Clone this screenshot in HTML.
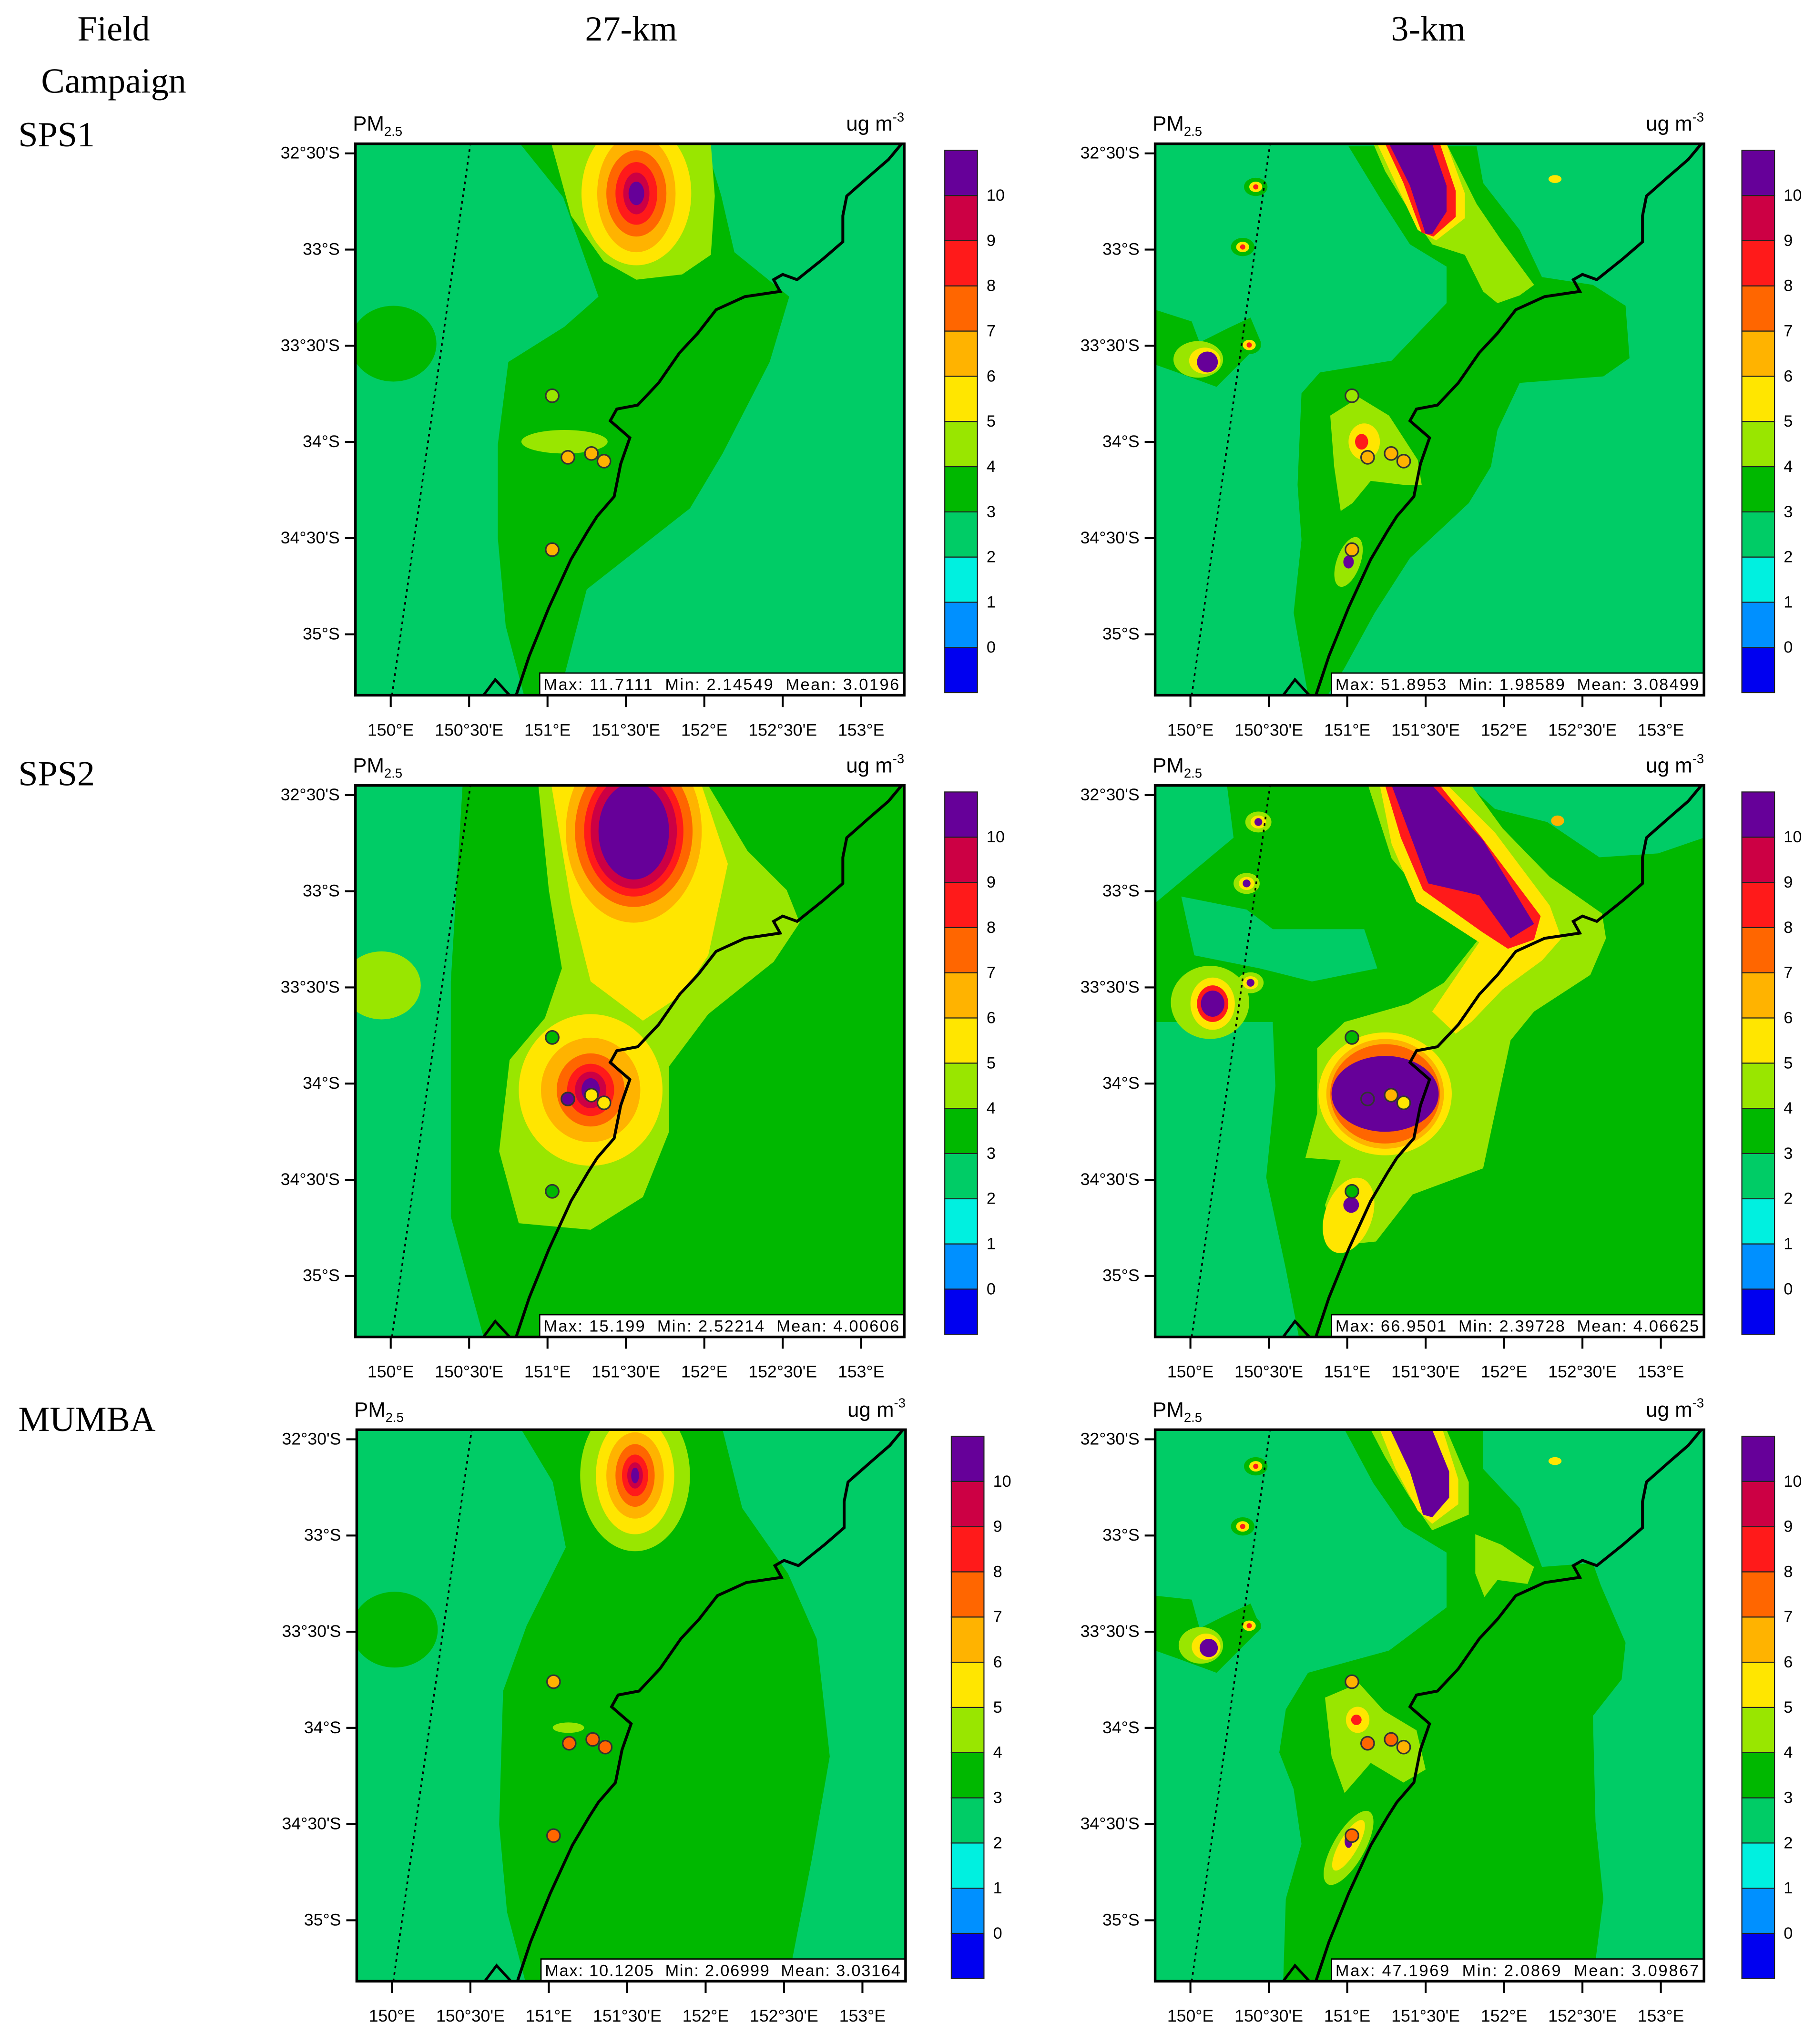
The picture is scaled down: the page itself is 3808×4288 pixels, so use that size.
<!DOCTYPE html>
<html><head><meta charset="utf-8"><style>
html,body{margin:0;padding:0;background:#fff;}
body{width:3808px;height:4288px;overflow:hidden;}
#wrap{position:absolute;left:0;top:0;width:1389px;height:1564px;transform:scale(2.7416);transform-origin:0 0;}
.hdr{position:absolute;font-family:"Liberation Serif",serif;font-size:27px;color:#000;text-align:center;line-height:40px;}
svg text{font-family:"Liberation Sans",sans-serif;}
.stat{white-space:pre;}
</style></head><body>
<div id="wrap">
<div class="hdr" style="left:7px;top:2px;width:160px;">Field<br>Campaign</div>
<div class="hdr" style="left:403px;top:2px;width:160px;">27-km</div>
<div class="hdr" style="left:1013px;top:2px;width:160px;">3-km</div>
<div class="hdr" style="left:14px;top:83px;text-align:left;">SPS1</div>
<div class="hdr" style="left:14px;top:572px;text-align:left;">SPS2</div>
<div class="hdr" style="left:14px;top:1066px;text-align:left;">MUMBA</div>
<svg id="svg" width="1389" height="1564" style="position:absolute;left:0;top:0"></svg>
</div>
<script>
// ---- data ----
const levelColors = ["#0000f0","#0090ff","#00f0e0","#00cc66","#00b800","#99e600","#ffe600","#ffb300","#ff6600","#ff1a1a","#cc0044","#660099"];
const levelLabels = ["0","1","2","3","4","5","6","7","8","9","10"];
const latTicks = [32.5,33,33.5,34,34.5,35];
const latTickLabels = ["32°30'S","33°S","33°30'S","34°S","34°30'S","35°S"];
const lonTicks = [150,150.5,151,151.5,152,152.5,153];
const lonTickLabels = ["150°E","150°30'E","151°E","151°30'E","152°E","152°30'E","153°E"];
const siteLon = [151.03,151.13,151.28,151.36,151.03];
const siteLat = [33.76,34.08,34.06,34.10,34.56];
const siteValsSPS1_27 = [4.5,6.2,6.5,6.2,6.2];
const siteValsSPS1_3 = [4.5,6.2,6.5,6.2,6.2];
const siteValsSPS2_27 = [3.5,11,5.5,5.5,3.5];
const siteValsSPS2_3 = [3.5,11,6.5,5.5,3.5];
const siteValsMUMBA_27 = [6.5,7.5,7.5,7.3,7.5];
const siteValsMUMBA_3 = [6.5,7.5,7.5,6.8,7.5];
const statsText = ["Max: 11.7111  Min: 2.14549  Mean: 3.0196","Max: 51.8953  Min: 1.98589  Mean: 3.08499",
 "Max: 15.199  Min: 2.52214  Mean: 4.00606","Max: 66.9501  Min: 2.39728  Mean: 4.06625",
 "Max: 10.1205  Min: 2.06999  Mean: 3.03164","Max: 47.1969  Min: 2.0869  Mean: 3.09867"];

const NS="http://www.w3.org/2000/svg";
const svg=document.getElementById('svg');
const W=420,H=422;
function lonX(lon){return (lon-149.775)*120;}
function latY(lat){return (lat-32.45)*147.2;}
function colorFor(v){let i=Math.floor(v)+1;if(i<0)i=0;if(i>11)i=11;return levelColors[i];}
function el(tag,attrs,parent){const e=document.createElementNS(NS,tag);for(const k in attrs)e.setAttribute(k,attrs[k]);parent.appendChild(e);return e;}
function poly(g,pts,lvl,name){const p=el('polygon',{points:pts.map(q=>q.join(',')).join(' '),fill:levelColors[lvl]},g);

}
function ell(g,cx,cy,rx,ry,lvl,rot,name){const e=el('ellipse',{cx:cx,cy:cy,rx:rx,ry:ry,fill:levelColors[lvl],transform:'rotate('+(rot||0)+' '+cx+' '+cy+')'},g);

}
function nest(g,cx,cy,radii,startLvl,rot){radii.forEach((r,i)=>ell(g,cx,cy,r[0],r[1],startLvl+i,rot,'contour-level-'+(startLvl+i)));}

const coast=[[123,422],[133,392],[148,355],[165,318],[178,296],[185,285],[198,270],[203,245],[210,225],[195,212],[200,203],[216,200],[232,183],[248,160],[262,145],[276,127],[298,117],[325,113],[320,104],[327,100],[338,104],[358,88],[373,75],[373,55],[376,40],[393,25],[408,12],[418,0]];

const fills={
 L1:g=>{poly(g,[[126,0],[268,0],[280,40],[290,83],[332,117],[317,167],[281,237],[256,279],[177,341],[156,422],[129,422],[115,369],[109,302],[109,230],[117,167],[160,140],[186,117],[159,41]],4,'contour-3-4');
   ell(g,29,153,33,29,4,0,'contour-3-4-west');
   ell(g,160,228,33,9,5,0,'contour-4-5-south');
   poly(g,[[150,0],[272,0],[275,40],[272,85],[250,100],[215,104],[190,90],[165,55]],5,'contour-4-5');
   nest(g,215,38,[[42,55],[30,45],[23,33],[16,24],[10,16],[6,9]],6,0);},
 L2:g=>{poly(g,[[82,0],[420,0],[420,422],[98,422],[73,330],[73,150]],4,'contour-3-4');
   ell(g,20,153,30,26,5,0,'contour-4-5-west');
   poly(g,[[140,0],[270,0],[300,50],[330,80],[340,105],[320,135],[270,175],[240,215],[240,265],[220,315],[180,340],[125,335],[110,280],[118,210],[145,178],[158,140],[148,80]],5,'contour-4-5');
   poly(g,[[150,0],[265,0],[285,60],[270,130],[250,160],[220,180],[180,150],[165,90]],6,'contour-5-6-top');
   nest(g,180,233,[[55,58],[38,40],[26,28],[18,20],[12,14],[7,9]],6,0);
   nest(g,213,35,[[52,70],[45,58],[38,50],[33,44],[27,37]],7,0);},
 L3:g=>{poly(g,[[126,0],[280,0],[295,60],[330,110],[352,160],[362,250],[348,330],[330,422],[156,422],[129,422],[115,369],[109,302],[112,200],[130,150],[160,90],[150,40]],4,'contour-3-4');
   ell(g,29,153,33,29,4,0,'contour-3-4-west');
   ell(g,162,228,12,4,5,0,'contour-4-5-south');
   nest(g,213,35,[[42,58],[30,45],[22,33],[15,24],[10,16],[6,10],[3,6]],5,0);},
 R1:g=>{poly(g,[[148,2],[246,2],[251,30],[279,66],[296,102],[335,108],[360,124],[363,164],[343,178],[279,183],[262,219],[257,247],[240,275],[195,317],[168,359],[145,401],[132,422],[117,422],[106,359],[112,303],[109,261],[112,191],[126,175],[181,166],[223,122],[223,94],[195,77],[173,43]],4,'contour-3-4');
   poly(g,[[0,127],[28,136],[34,152],[56,141],[73,133],[81,152],[64,169],[47,186],[17,175],[0,169]],4,'contour-3-4-west');
   poly(g,[[167,0],[223,0],[246,46],[265,74],[290,108],[279,116],[262,122],[251,113],[237,85],[212,77],[195,52],[176,21]],5,'contour-4-5-band');
   poly(g,[[170,0],[223,0],[237,38],[237,57],[215,74],[201,66],[184,30]],6,'contour-5-6-band');
   poly(g,[[176,0],[218,0],[230,36],[230,56],[213,71],[204,68],[190,30]],9,'contour-8-9-band');
   poly(g,[[179,0],[212,0],[223,32],[223,52],[212,69],[207,69],[195,32]],11,'contour-over-10-band');
   poly(g,[[134,208],[156,194],[179,208],[201,242],[204,261],[190,261],[165,258],[151,275],[142,281],[137,247]],5,'contour-4-5-south');
   ell(g,160,228,12,14,6,0,'contour-5-6');ell(g,158,228,5,6,9,0,'contour-8-9');
   ell(g,33,165,19,14,5,0,'blob-west');ell(g,38,166,12,10,6,0,'blob-west-y');ell(g,40,167,8,8,11,0,'blob-west-p');
   ell(g,148,320,9,20,5,20,'blob-s');ell(g,148,320,4,5,11,0,'blob-s-p');
   [[77,33],[67,79],[72,154]].forEach(p=>{ell(g,p[0],p[1],9,7,4,0,'small-blob');ell(g,p[0],p[1],5,4,6,0,'small-blob');ell(g,p[0],p[1],2,2,9,0,'small-blob');});
   ell(g,306,27,5,3,6,0,'small-blob');},
 R2:g=>{g.firstChild.setAttribute('fill',levelColors[4]);
   poly(g,[[240,0],[420,0],[420,40],[385,52],[340,55],[300,28],[260,18]],3,'contour-2-3-ne');
   poly(g,[[0,181],[90,181],[92,230],[85,300],[100,370],[110,422],[0,422]],3,'contour-2-3-sw');
   poly(g,[[20,85],[70,95],[90,110],[160,110],[170,140],[120,150],[80,140],[30,130]],3,'contour-2-3-w');
   poly(g,[[0,0],[55,0],[60,40],[0,90]],3,'contour-2-3-nw');
   poly(g,[[163,0],[242,0],[266,33],[302,70],[342,98],[345,117],[333,145],[290,173],[272,195],[260,251],[251,293],[197,313],[169,349],[139,352],[130,321],[142,287],[115,285],[124,251],[124,201],[145,181],[194,167],[221,151],[248,117],[212,92],[181,56]],5,'contour-4-5');
   poly(g,[[172,0],[224,0],[260,36],[302,92],[311,117],[296,134],[266,156],[242,181],[230,190],[212,173],[248,120],[200,89],[181,45]],6,'contour-5-6-band');
   poly(g,[[176,0],[218,0],[250,40],[295,100],[290,118],[270,125],[250,112],[205,80],[188,40]],9,'contour-8-9-band');
   poly(g,[[181,0],[212,0],[251,42],[290,106],[272,117],[248,84],[209,75]],11,'contour-over-10-band');
   nest(g,176,236,[[51,47],[45,42],[42,38],[41,29]],6,0);
   ell(g,176,236,41,29,11,0,'contour-over-10-south');
   ell(g,148,329,18,30,6,20,'blob-s');ell(g,150,321,6,6,11,0,'blob-s-p');
   ell(g,42,166,30,28,5,0,'blob-west');ell(g,44,167,17,20,6,0,'blob-west-y');ell(g,44,167,12,14,9,0,'blob-west-r');ell(g,44,167,9,10,11,0,'blob-west-p');
   [[79,28],[70,75],[73,151]].forEach(p=>{ell(g,p[0],p[1],10,8,5,0,'small-blob');ell(g,p[0],p[1],6,5,6,0,'small-blob');ell(g,p[0],p[1],3,3,11,0,'small-blob');});
   ell(g,308,27,5,4,7,0,'small-blob');},
 R3:g=>{poly(g,[[145,0],[251,0],[251,30],[279,60],[296,105],[335,102],[341,119],[360,163],[357,191],[335,219],[337,300],[343,359],[335,422],[98,422],[100,359],[112,317],[106,275],[95,247],[100,214],[117,186],[179,169],[223,136],[223,94],[190,74],[167,41]],4,'contour-3-4');
   poly(g,[[0,127],[28,130],[34,152],[56,141],[73,133],[81,152],[64,169],[47,186],[17,175],[0,169]],4,'contour-3-4-west');
   poly(g,[[165,0],[223,0],[240,40],[240,65],[212,77],[195,52],[176,21]],5,'contour-4-5-band');
   poly(g,[[172,0],[220,0],[232,38],[232,57],[212,72],[201,62],[184,30]],6,'contour-5-6-band');
   poly(g,[[180,0],[212,0],[225,32],[225,52],[212,67],[205,65],[195,32]],11,'contour-over-10-band');
   poly(g,[[245,80],[265,88],[290,105],[285,118],[262,115],[252,128],[245,110]],5,'contour-4-5-ne');
   poly(g,[[130,205],[156,194],[175,215],[200,230],[207,260],[190,270],[165,255],[145,278],[135,250]],5,'contour-4-5-south');
   ell(g,155,222,9,10,6,0,'contour-5-6');ell(g,154,222,4,4,9,0,'contour-8-9');
   ell(g,148,320,12,32,5,30,'blob-s');ell(g,148,318,7,22,6,30,'blob-s-y');ell(g,148,315,3,5,11,0,'blob-s-p');
   ell(g,35,165,17,14,5,0,'blob-west');ell(g,39,166,11,10,6,0,'blob-west-y');ell(g,41,167,7,7,11,0,'blob-west-p');
   [[77,28],[67,74],[72,150]].forEach(p=>{ell(g,p[0],p[1],9,7,4,0,'small-blob');ell(g,p[0],p[1],5,4,6,0,'small-blob');ell(g,p[0],p[1],2,2,9,0,'small-blob');});
   ell(g,306,24,5,3,6,0,'small-blob');}
};

const panels=[
 {key:'L1',x:272,y:110,cbx:723,vals:siteValsSPS1_27,stat:0},
 {key:'R1',x:884,y:110,cbx:1333,vals:siteValsSPS1_3,stat:1},
 {key:'L2',x:272,y:601,cbx:723,vals:siteValsSPS2_27,stat:2},
 {key:'R2',x:884,y:601,cbx:1333,vals:siteValsSPS2_3,stat:3},
 {key:'L3',x:273,y:1094,cbx:728,vals:siteValsMUMBA_27,stat:4},
 {key:'R3',x:884,y:1094,cbx:1333,vals:siteValsMUMBA_3,stat:5}];

panels.forEach((P,pi)=>{
 const g=el('g',{transform:'translate('+P.x+','+P.y+')'},svg);
 
 
 const cp='clip'+pi;
 const defs=el('defs',{},g);const c=el('clipPath',{id:cp},defs);el('rect',{x:0,y:0,width:W,height:H},c);
 const m=el('g',{'clip-path':'url(#'+cp+')'},g);
 const bg=el('rect',{x:0,y:0,width:W,height:H,fill:levelColors[3]},m);
 
 
 const fg=el('g',{},m);fg.appendChild(bg);
 fills[P.key](fg);
 const dl=el('line',{x1:28,y1:H,x2:88,y2:0,stroke:'#000','stroke-width':1.3,'stroke-dasharray':'2,3'},m);
 
 
 const cl=el('polyline',{points:coast.map(q=>q.join(',')).join(' '),fill:'none',stroke:'#000','stroke-width':2.2},m);
 
 
 const hk=el('polyline',{points:'98,422 107,410 118,422',fill:'none',stroke:'#000','stroke-width':2},m);
 
 
 siteLon.forEach((lon,i)=>{const s=el('circle',{cx:lonX(lon),cy:latY(siteLat[i]),r:5,fill:colorFor(P.vals[i]),stroke:'#333','stroke-width':1.2},m);
  
  });
 const sw=(P.key[0]==='L')?279:285;
 const sb=el('rect',{x:W-sw,y:H-17,width:sw,height:17,fill:'#fff',stroke:'#000','stroke-width':1},g);
 
 
 const st=el('text',{x:W-sw+3,y:H-4,'font-size':12.5,'class':'stat',textLength:sw-7,lengthAdjust:'spacing'},g);st.textContent=statsText[P.stat];
 
 
 const fr=el('rect',{x:0,y:0,width:W,height:H,fill:'none',stroke:'#000','stroke-width':2},g);
 
 
 latTicks.forEach((lat,i)=>{const y=latY(lat);el('line',{x1:-8,y1:y,x2:0,y2:y,stroke:'#000','stroke-width':1.5},g);
  const t=el('text',{x:-12,y:y+4,'font-size':13,'text-anchor':'end'},g);t.textContent=latTickLabels[i];
  
  });
 lonTicks.forEach((lon,i)=>{const x=lonX(lon);el('line',{x1:x,y1:H,x2:x,y2:H+9,stroke:'#000','stroke-width':1.5},g);
  const t=el('text',{x:x,y:H+31,'font-size':13,'text-anchor':'middle'},g);t.textContent=lonTickLabels[i];
  
  });
 const ti=el('text',{x:-2,y:-10,'font-size':16},g);ti.innerHTML='PM<tspan font-size="10" dy="4">2.5</tspan>';
 
 
 const un=el('text',{x:W,y:-10,'font-size':16,'text-anchor':'end'},g);un.innerHTML='ug m<tspan font-size="10" dy="-7">-3</tspan>';
 
 
 const cb=el('g',{transform:'translate('+P.cbx+','+(P.y+5)+')'},svg);
 
 
 const bh=415/levelColors.length;
 levelColors.forEach((col,i)=>{const r=el('rect',{x:0,y:(levelColors.length-1-i)*bh,width:25,height:bh,fill:col,stroke:'#222','stroke-width':0.8},cb);
  
  });
 levelLabels.forEach((lb,i)=>{const t=el('text',{x:32,y:(levelColors.length-1-i)*bh+4,'font-size':12.5},cb);t.textContent=lb;
  
  });
});
</script>
</body></html>
